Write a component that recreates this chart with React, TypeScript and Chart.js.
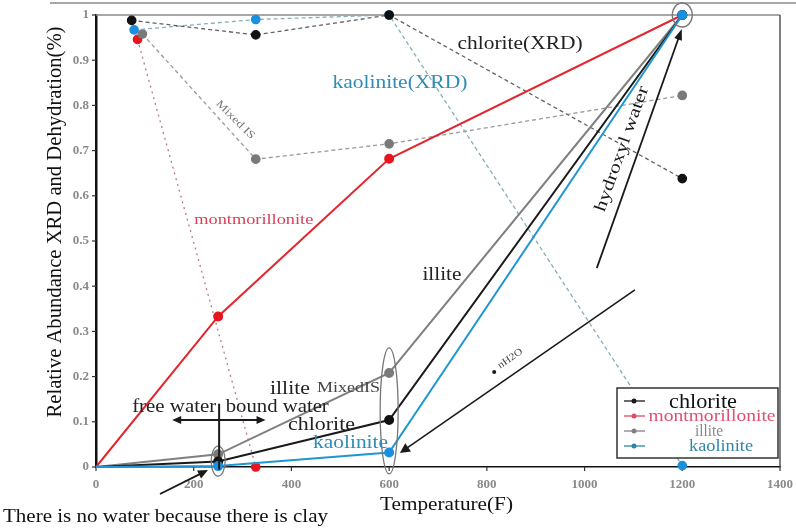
import React, { useEffect, useRef } from "react";
import { Chart, registerables } from "chart.js";

Chart.register(...registerables);

// ---- data ----
const dehydTemps = [0, 250, 600, 1200];
const chloriteDehyd = [0, 0.012, 0.104, 1.0];
const montDehyd = [0, 0.333, 0.682, 1.0];
const illiteDehyd = [0, 0.028, 0.208, 1.0];
const kaolDehyd = [0, 0.002, 0.032, 1.0];

const chloriteXrdTemps = [73, 327, 600, 1200];
const chloriteXrd = [0.988, 0.956, 1.0, 0.638];
const kaolXrdTemps = [78, 327, 600, 1200];
const kaolXrd = [0.967, 0.99, 1.0, 0.003];
const illiteXrdTemps = [95, 327, 600, 1200];
const illiteXrd = [0.958, 0.681, 0.715, 0.822];
const montXrdTemps = [85, 327];
const montXrd = [0.946, 0.0];

const xTicks = [0, 200, 400, 600, 800, 1000, 1200, 1400];
const yTicks = [0, 0.1, 0.2, 0.3, 0.4, 0.5, 0.6, 0.7, 0.8, 0.9, 1];

const legendNames = ["chlorite", "montmorillonite", "illite", "kaolinite"];

const SERIF = '"Liberation Serif", "DejaVu Serif", serif';

const C_BLACK = "#1a1a1a";
const C_RED = "#e3262e";
const C_GRAY = "#808080";
const C_BLUE = "#1f96d4";

function pts(xs: number[], ys: number[]) {
  return xs.map((x, i) => ({ x, y: ys[i] }));
}

function arrow(ctx: CanvasRenderingContext2D, x1: number, y1: number, x2: number, y2: number, color: string, w: number, head = 9, hw = 4) {
  const a = Math.atan2(y2 - y1, x2 - x1);
  ctx.save();
  ctx.strokeStyle = color;
  ctx.fillStyle = color;
  ctx.lineWidth = w;
  ctx.beginPath();
  ctx.moveTo(x1, y1);
  ctx.lineTo(x2 - Math.cos(a) * head * 0.8, y2 - Math.sin(a) * head * 0.8);
  ctx.stroke();
  ctx.beginPath();
  ctx.moveTo(x2, y2);
  ctx.lineTo(x2 - Math.cos(a) * head + Math.sin(a) * hw, y2 - Math.sin(a) * head - Math.cos(a) * hw);
  ctx.lineTo(x2 - Math.cos(a) * head - Math.sin(a) * hw, y2 - Math.sin(a) * head + Math.cos(a) * hw);
  ctx.closePath();
  ctx.fill();
  ctx.restore();
}

// draw text centred at (px,py), stretched horizontally to width w
function fitText(ctx: CanvasRenderingContext2D, s: string, px: number, py: number, w: number, size: number, color: string, rot = 0) {
  ctx.save();
  ctx.font = `${size}px ${SERIF}`;
  const m = ctx.measureText(s).width;
  ctx.translate(px, py);
  ctx.rotate(rot);
  ctx.scale(w / m, 1);
  ctx.fillStyle = color;
  ctx.textAlign = "center";
  ctx.textBaseline = "middle";
  ctx.fillText(s, 0, 0);
  ctx.restore();
}

const annotPlugin = {
  id: "annot",
  beforeDatasetsDraw(chart: any) {
    const ctx = chart.ctx as CanvasRenderingContext2D;
    const { left, right, top, bottom } = chart.chartArea;
    ctx.save();
    // artifact top line
    ctx.strokeStyle = "#a8a8a8";
    ctx.lineWidth = 2;
    ctx.beginPath();
    ctx.moveTo(50, 3);
    ctx.lineTo(796, 3);
    ctx.stroke();
    // top border
    ctx.strokeStyle = "#8a8a8a";
    ctx.lineWidth = 1.5;
    ctx.beginPath();
    ctx.moveTo(left, top);
    ctx.lineTo(right, top);
    ctx.stroke();
    // right border
    ctx.strokeStyle = "#555";
    ctx.beginPath();
    ctx.moveTo(right, top);
    ctx.lineTo(right, bottom);
    ctx.stroke();
    // outward ticks
    const xs = chart.scales.x;
    const ys = chart.scales.y;
    ctx.strokeStyle = "#333";
    ctx.lineWidth = 1.2;
    xTicks.forEach((t) => {
      const px = xs.getPixelForValue(t);
      ctx.beginPath();
      ctx.moveTo(px, bottom);
      ctx.lineTo(px, bottom + 4);
      ctx.stroke();
    });
    yTicks.forEach((t) => {
      const py = ys.getPixelForValue(t);
      ctx.beginPath();
      ctx.moveTo(left, py);
      ctx.lineTo(left - 4, py);
      ctx.stroke();
    });
    ctx.restore();
  },
  afterDatasetsDraw(chart: any) {
    const ctx = chart.ctx as CanvasRenderingContext2D;
    const xs = chart.scales.x;
    const ys = chart.scales.y;
    const P = (x: number, y: number) => [xs.getPixelForValue(x), ys.getPixelForValue(y)];
    ctx.save();

    // ellipses
    ctx.strokeStyle = "#777";
    ctx.lineWidth = 1.3;
    const ell = (x: number, y: number, rx: number, ry: number) => {
      const [px, py] = P(x, y);
      ctx.beginPath();
      ctx.ellipse(px, py, rx, ry, 0, 0, Math.PI * 2);
      ctx.stroke();
    };
    ell(1200, 1.0, 10, 12);
    ell(600, 0.124, 9, 63);
    ell(250, 0.013, 7, 15);

    // hydroxyl water arrow
    {
      const [x1, y1] = P(1025, 0.44);
      const [x2, y2] = P(1199, 0.969);
      arrow(ctx, x1, y1, x2, y2, C_BLACK, 1.8, 11, 4);
      const [tx, ty] = P(1077, 0.704);
      fitText(ctx, "hydroxyl water", tx, ty, 132, 17, C_BLACK, Math.atan2(y2 - y1, x2 - x1));
    }
    // nH2O arrow
    {
      const [x1, y1] = P(1103, 0.392);
      const [x2, y2] = P(622, 0.031);
      arrow(ctx, x1, y1, x2, y2, C_BLACK, 1.6, 10, 5);
      const [dx, dy] = P(815, 0.21);
      ctx.fillStyle = C_BLACK;
      ctx.beginPath();
      ctx.arc(dx, dy, 2, 0, Math.PI * 2);
      ctx.fill();
      const [tx, ty] = P(848, 0.24);
      fitText(ctx, "nH2O", tx, ty, 28, 10, "#444", Math.atan2(y2 - y1, x2 - x1) + Math.PI);
    }
    // free water / bound water
    {
      const [vx, vy1] = P(252, 0.14);
      const [, vy2] = P(252, -0.006);
      ctx.strokeStyle = C_BLACK;
      ctx.lineWidth = 2;
      ctx.beginPath();
      ctx.moveTo(vx, vy1);
      ctx.lineTo(vx, vy2);
      ctx.stroke();
      const [hx1, hy] = P(156, 0.104);
      const [hx2] = P(347, 0.104);
      const mid = (hx1 + hx2) / 2;
      arrow(ctx, mid, hy, hx1, hy, C_BLACK, 1.8, 9, 4);
      arrow(ctx, mid, hy, hx2, hy, C_BLACK, 1.8, 9, 4);
    }
    // no water arrow
    arrow(ctx, 160, 494, 208, 470, C_BLACK, 1.8, 10, 4.5);

    // texts (anchors in data units, widths in px)
    const t = (s: string, x: number, y: number, w: number, size: number, color: string, rot = 0) => {
      const [px, py] = P(x, y);
      fitText(ctx, s, px, py, w, size, color, rot);
    };
    t("chlorite(XRD)", 868, 0.936, 125, 18, "#222");
    t("kaolinite(XRD)", 622, 0.85, 135, 18, "#2f8db5");
    t("Mixed IS", 285, 0.768, 50, 11, "#777", Math.PI / 4);
    t("montmorillonite", 323, 0.546, 119, 15, "#d9405a");
    t("illite", 708, 0.425, 39, 18, "#222");
    t("illite", 397, 0.173, 40, 18, "#222");
    t("MixedIS", 517, 0.173, 63, 14, "#444");
    t("free water", 160, 0.133, 84, 18, "#222");
    t("bound water", 371, 0.133, 103, 18, "#222");
    t("chlorite", 461.5, 0.093, 67, 18, "#222");
    t("kaolinite", 521, 0.053, 75, 18, "#2f8db5");

    fitText(ctx, "There is no water because there is clay", 165.5, 517, 325, 18, "#111");

    // axis titles
    fitText(ctx, "Temperature(F)", 446.5, 505, 133, 18, "#111");
    fitText(ctx, "Relative Abundance XRD and Dehydration(%)", 56, 222, 391, 20, "#111", -Math.PI / 2);

    // legend
    const lx = 617, ly = 388, lw = 161, lh = 70;
    ctx.fillStyle = "#fff";
    ctx.fillRect(lx, ly, lw, lh);
    ctx.strokeStyle = "#333";
    ctx.lineWidth = 1.5;
    ctx.strokeRect(lx, ly, lw, lh);
    const lcol = [C_BLACK, "#e04a64", C_GRAY, "#2a85a8"];
    const tcol = ["#111", "#e05070", "#888", "#2f86a8"];
    const sizes = [21, 17, 17, 17];
    const widths = [68, 127, 28, 64];
    const rows = [402, 417, 432, 447];
    const cx = [703, 712, 709, 721];
    legendNames.forEach((n, i) => {
      ctx.strokeStyle = lcol[i];
      ctx.lineWidth = 1.3;
      ctx.beginPath();
      ctx.moveTo(624, rows[i] - 1);
      ctx.lineTo(645, rows[i] - 1);
      ctx.stroke();
      ctx.fillStyle = lcol[i];
      ctx.beginPath();
      ctx.arc(634, rows[i] - 1, 2.5, 0, Math.PI * 2);
      ctx.fill();
      fitText(ctx, n, cx[i], rows[i], widths[i], sizes[i], tcol[i]);
    });

    ctx.restore();
  },
};

export default function App() {
  const ref = useRef<HTMLCanvasElement>(null);
  useEffect(() => {
    document.body.style.margin = "0";
    const dashed = (data: any, color: string, ptColor: string, dash: number[]) => ({
      data,
      showLine: true,
      borderColor: color,
      borderWidth: 1.3,
      borderDash: dash,
      pointBackgroundColor: ptColor,
      pointBorderColor: ptColor,
      pointRadius: 4.2,
      clip: false,
    });
    const solid = (data: any, color: string, ptColor: string) => ({
      data,
      showLine: true,
      borderColor: color,
      borderWidth: 2,
      pointBackgroundColor: ptColor,
      pointBorderColor: ptColor,
      pointRadius: (c: any) => (c.raw && c.raw.x === 0 ? 0 : 4),
      clip: false,
    });
    // first dataset is drawn on top
    const chart = new Chart(ref.current!, {
      type: "scatter",
      data: {
        datasets: [
          solid(pts(dehydTemps, kaolDehyd), C_BLUE, "#1a90de"),
          solid(pts(dehydTemps, chloriteDehyd), C_BLACK, "#111"),
          solid(pts(dehydTemps, illiteDehyd), C_GRAY, "#7a7a7a"),
          solid(pts(dehydTemps, montDehyd), C_RED, "#e8141e"),
          dashed(pts(chloriteXrdTemps, chloriteXrd), "#5e6466", "#111", [4, 3]),
          dashed(pts(kaolXrdTemps, kaolXrd), "#86aeb8", "#1a90de", [4, 3]),
          dashed(pts(illiteXrdTemps, illiteXrd), "#9a9a9a", "#7a7a7a", [4, 3]),
          dashed(pts(montXrdTemps, montXrd), "#b97a88", "#e8141e", [2, 4]),
        ] as any,
      },
      options: {
        animation: false,
        responsive: false,
        devicePixelRatio: 1,
        layout: { padding: { left: 0, right: 16, top: 15, bottom: 0 } },
        plugins: { legend: { display: false }, tooltip: { enabled: false } },
        scales: {
          x: {
            type: "linear",
            min: 0,
            max: 1400,
            afterBuildTicks: (s: any) => {
              s.ticks = xTicks.map((v) => ({ value: v }));
            },
            afterFit: (s: any) => {
              s.height = 62;
              s.paddingLeft = 0;
              s.paddingRight = 0;
            },
            grid: { display: false, drawTicks: false },
            border: { display: true, color: "#111", width: 1.5 },
            ticks: {
              color: "#8a8a8a",
              padding: 10,
              font: { family: SERIF, size: 13, weight: "bold" },
              callback: (v: any) => String(v),
            },
          },
          y: {
            type: "linear",
            min: 0,
            max: 1,
            afterBuildTicks: (s: any) => {
              s.ticks = yTicks.map((v) => ({ value: v }));
            },
            afterFit: (s: any) => {
              s.width = 96;
              s.paddingTop = 0;
              s.paddingBottom = 0;
            },
            grid: { display: false, drawTicks: false },
            border: { display: true, color: "#111", width: 2.5 },
            ticks: {
              color: "#8a8a8a",
              padding: 7,
              font: { family: SERIF, size: 13, weight: "bold" },
              callback: (v: any) => (v === 0 ? "0" : v === 1 ? "1" : Number(v).toFixed(1)),
            },
          },
        },
      },
      plugins: [annotPlugin],
    } as any);
    return () => chart.destroy();
  }, []);
  return (
    <div style={{ position: "absolute", left: 0, top: 0, width: 796, height: 529 }}>
      <canvas ref={ref} width={796} height={529} />
    </div>
  );
}
